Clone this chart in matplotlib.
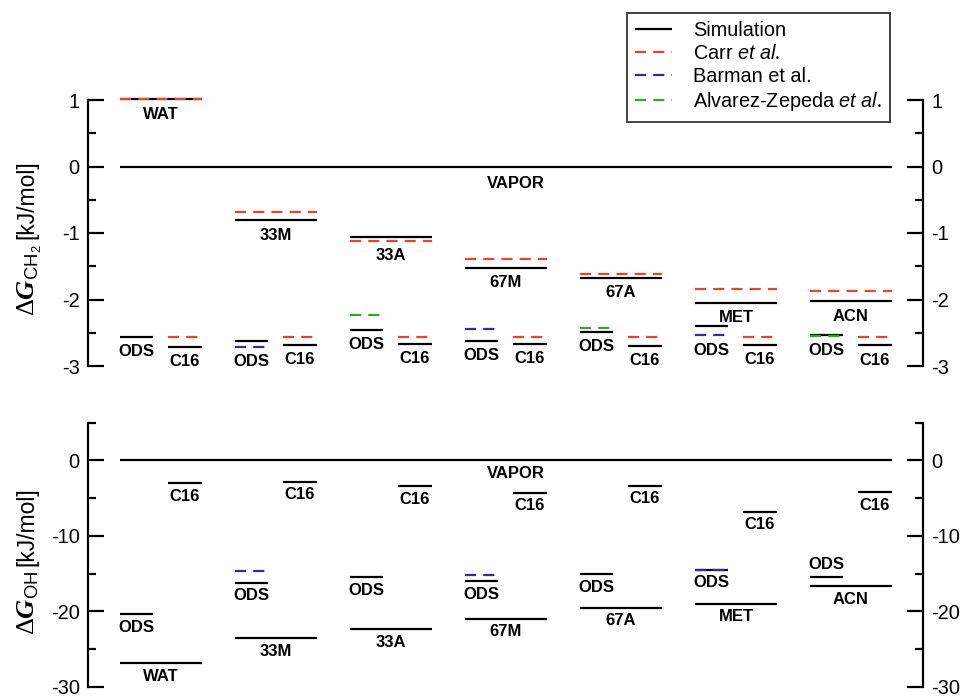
import matplotlib
matplotlib.use('Agg')
import matplotlib.pyplot as plt
from matplotlib.lines import Line2D
from matplotlib.ticker import MultipleLocator

plt.rcParams['font.family'] = ['Liberation Sans', 'DejaVu Sans']
plt.rcParams['axes.unicode_minus'] = False
plt.rcParams['mathtext.fontset'] = 'custom'
plt.rcParams['mathtext.rm'] = 'Liberation Serif'
plt.rcParams['mathtext.sf'] = 'Liberation Sans'
plt.rcParams['mathtext.it'] = 'Liberation Sans:italic'
plt.rcParams['mathtext.bf'] = 'Liberation Sans:bold'
HAS_BFIT = 'mathtext.bfit' in plt.rcParams
if HAS_BFIT:
    plt.rcParams['mathtext.bfit'] = 'Liberation Serif:italic:bold'

# ---------------- data ----------------
groups = ['WAT', '33M', '33A', '67M', '67A', 'MET', 'ACN']

# CH2 panel (kJ/mol)
ch2_sim = [1.01, -0.81, -1.06, -1.52, -1.68, -2.05, -2.03]
ch2_carr = [1.02, -0.68, -1.12, -1.39, -1.61, -1.84, -1.87]
ch2_ods_sim = [-2.56, -2.63, -2.46, -2.62, -2.49, -2.40, -2.54]
ch2_ods_barman = [None, -2.71, None, -2.45, None, -2.54, None]
ch2_ods_alvarez = [None, None, -2.23, None, -2.43, None, -2.55]
ch2_c16_sim = [-2.71, -2.68, -2.67, -2.67, -2.70, -2.68, -2.69]
ch2_c16_carr = [-2.57, -2.57, -2.57, -2.57, -2.57, -2.57, -2.57]

# OH panel (kJ/mol)
oh_sim = [-26.9, -23.6, -22.35, -21.0, -19.5, -19.0, -16.7]
oh_ods_sim = [-20.4, -16.2, -15.5, -16.0, -15.1, -14.5, -15.4]
oh_ods_barman = [None, -14.7, None, -15.2, None, -14.5, None]
oh_c16_sim = [-3.0, -2.8, -3.45, -4.3, -3.35, -6.8, -4.2]
oh_ods_label_above = [False, False, False, False, False, False, True]

vapor_value = 0.0
legend_labels = ['Simulation', 'Carr $\\mathit{et\\ al.}$', 'Barman et al.',
                 'Alvarez-Zepeda $\\mathit{et\\ al.}$']
ylabel_sym = ['CH_2', 'OH']
ylabel_unit = '[kJ/mol]'

# ---------------- style ----------------
RED = '#e8442b'
BLUE = '#2c2c9e'
GREEN = '#35a52a'
LW = 1.6
DASH = (0, (5.0, 3.2))
W_MAIN = 0.713
W_ODS = 0.287
C16_START = 0.417

sim_style = dict(color='black', lw=LW, solid_capstyle='butt')


def dash_style(c):
    return dict(color=c, lw=LW, linestyle=DASH, dash_capstyle='butt')


FW, FH = 968, 699
fig = plt.figure(figsize=(FW / 100, FH / 100), dpi=100)
L = 88 / FW
R = 923 / FW
ax1 = fig.add_axes([L, 1 - 366 / FH, R - L, (366 - 100) / FH])
ax2 = fig.add_axes([L, 1 - 686.7 / FH, R - L, (686.7 - 422.7) / FH])

LABEL_FS = 12
TICK_FS = 14.5


def seg(ax, x0, x1, y, style):
    if y is None:
        return
    ax.plot([x0, x1], [y, y], clip_on=False, **style)


def lab(ax, x, y, text, off, above=False):
    ax.annotate(text, xy=(x, y), xytext=(0, 3.0 if above else -off),
                textcoords='offset points', ha='center',
                va='bottom' if above else 'top', fontsize=LABEL_FS,
                fontweight='bold', annotation_clip=False)


def setup(ax, ylim, major, minor):
    ax.set_xlim(-0.278, 6.983)
    ax.set_ylim(*ylim)
    for s in ['top', 'bottom']:
        ax.spines[s].set_visible(False)
    for s in ['left', 'right']:
        ax.spines[s].set_linewidth(1.6)
    ax.set_xticks([])
    ax.yaxis.set_major_locator(MultipleLocator(major))
    ax.yaxis.set_minor_locator(MultipleLocator(minor))
    ax.tick_params(axis='y', which='both', direction='in', left=True,
                   right=True, labelleft=True, labelright=True, width=1.6,
                   labelsize=TICK_FS, pad=6)
    ax.tick_params(axis='y', which='major', length=11.5)
    ax.tick_params(axis='y', which='minor', length=6)
    ax.patch.set_visible(False)


setup(ax1, (-3, 1), 1, 0.5)
setup(ax2, (-30, 5), 10, 5)

# y labels: larger serif "ΔG" symbol, then unit text
G = r'\mathbfit{G}' if HAS_BFIT else r'\mathbf{G}'
for sym, yjunc in zip(ylabel_sym, (241, 568)):
    fig.text(34.5 / FW, 1 - (yjunc + 3) / FH,
             r'$\Delta ' + G + r'_{\mathsf{' + sym + r'}}$',
             rotation=90, rotation_mode='anchor', ha='right', va='baseline',
             fontsize=19)
    fig.text(33.5 / FW, 1 - (yjunc - 2) / FH, ylabel_unit,
             rotation=90, rotation_mode='anchor', ha='left', va='baseline',
             fontsize=16.5)

n = len(groups)
# vapor lines
for ax, off in ((ax1, 7), (ax2, 4)):
    seg(ax, 0, n - 1 + W_MAIN, vapor_value, sim_style)
    lab(ax, 3.44, vapor_value, 'VAPOR', off)

TOP_OFF = 5.2
BOT_OFF = 4
# top panel
for i, g in enumerate(groups):
    x = float(i)
    seg(ax1, x, x + W_MAIN, ch2_sim[i], sim_style)
    seg(ax1, x, x + W_MAIN, ch2_carr[i], dash_style(RED))
    lab(ax1, x + W_MAIN / 2, min(ch2_sim[i], ch2_carr[i]), g, TOP_OFF)

    seg(ax1, x, x + W_ODS, ch2_ods_sim[i], sim_style)
    seg(ax1, x, x + W_ODS, ch2_ods_barman[i], dash_style(BLUE))
    seg(ax1, x, x + W_ODS, ch2_ods_alvarez[i], dash_style(GREEN))
    vals = [v for v in (ch2_ods_sim[i], ch2_ods_barman[i], ch2_ods_alvarez[i]) if v is not None]
    lab(ax1, x + W_ODS / 2, min(vals), 'ODS', TOP_OFF)

    seg(ax1, x + C16_START, x + W_MAIN, ch2_c16_sim[i], sim_style)
    seg(ax1, x + C16_START, x + W_MAIN, ch2_c16_carr[i], dash_style(RED))
    lab(ax1, x + (C16_START + W_MAIN) / 2, min(ch2_c16_sim[i], ch2_c16_carr[i]), 'C16', TOP_OFF)

# bottom panel
for i, g in enumerate(groups):
    x = float(i)
    seg(ax2, x, x + W_MAIN, oh_sim[i], sim_style)
    lab(ax2, x + W_MAIN / 2, oh_sim[i], g, BOT_OFF)

    seg(ax2, x, x + W_ODS, oh_ods_sim[i], sim_style)
    seg(ax2, x, x + W_ODS, oh_ods_barman[i], dash_style(BLUE))
    vals = [v for v in (oh_ods_sim[i], oh_ods_barman[i]) if v is not None]
    if oh_ods_label_above[i]:
        lab(ax2, x + W_ODS / 2, max(vals), 'ODS', BOT_OFF, above=True)
    else:
        lab(ax2, x + W_ODS / 2, min(vals), 'ODS', BOT_OFF)

    seg(ax2, x + C16_START, x + W_MAIN, oh_c16_sim[i], sim_style)
    lab(ax2, x + (C16_START + W_MAIN) / 2, oh_c16_sim[i], 'C16', BOT_OFF)

handles = [Line2D([], [], **sim_style),
           Line2D([], [], **dash_style(RED)),
           Line2D([], [], **dash_style(BLUE)),
           Line2D([], [], **dash_style(GREEN))]
leg = fig.legend(handles, legend_labels, loc='upper right',
                 bbox_to_anchor=(890 / FW, 1 - 13 / FH), frameon=True,
                 fancybox=False, edgecolor='black', fontsize=14.3,
                 handlelength=1.85, labelspacing=0.2, borderpad=0.42,
                 handletextpad=1.05, borderaxespad=0)
leg.get_frame().set_linewidth(1.3)

fig.savefig('out.png', dpi=100)
